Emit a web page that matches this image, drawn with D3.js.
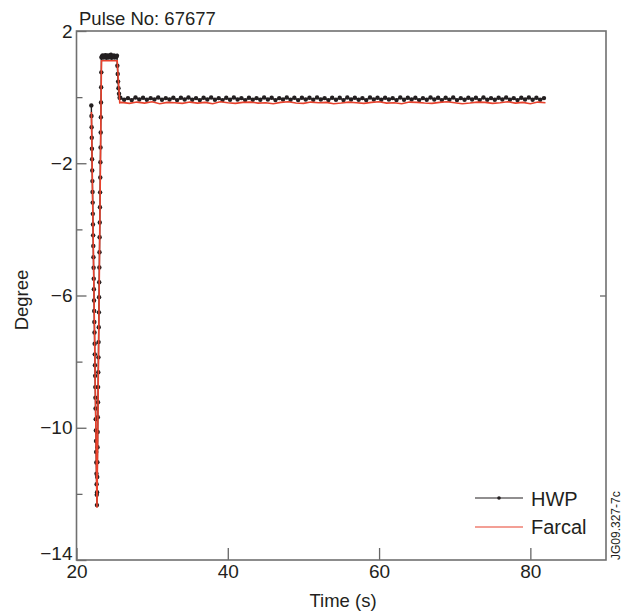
<!DOCTYPE html>
<html>
<head>
<meta charset="utf-8">
<script src="https://cdn.jsdelivr.net/npm/d3@7"></script>
<style>
  body { margin: 0; background: #fff; }
  text { font-family: "Liberation Sans", Arial, sans-serif; fill: #231f20; }
</style>
</head>
<body>
<div id="chart"></div>
<script>
// HWP: ramp + plateau + drop (explicit samples)
const hwpRampTime = [
  21.96,21.98,22.00,22.02,22.04,22.06,22.08,22.10,22.12,22.14,
  22.16,22.18,22.20,22.22,22.24,22.26,22.28,22.30,22.32,22.34,
  22.36,22.38,22.40,22.42,22.44,22.46,22.48,22.50,22.52,22.54,
  22.56,22.58,22.60,22.62,22.64,22.66,22.68,22.70,
  22.72,22.74,22.76,22.78,22.80,22.82,22.84,22.86,22.88,22.90,
  22.92,22.94,22.96,22.98,23.00,23.02,23.04,23.06,23.08,23.10,
  23.12,23.14,23.16,23.18,23.20,23.22,23.24,23.26,23.28,23.30,
  23.35,23.45,23.55,23.65,23.75,23.85,23.95,24.05,24.15,24.25,
  24.35,24.45,24.55,24.65,24.75,24.85,24.95,25.05,25.15,25.25,25.35,
  25.40,25.45,25.50,25.55,25.62,25.70
];
const hwpRampDeg = [
  -0.25,-0.57,-0.91,-1.23,-1.56,-1.88,-2.22,-2.54,-2.87,-3.19,
  -3.53,-3.85,-4.18,-4.50,-4.84,-5.16,-5.49,-5.81,-6.15,-6.47,
  -6.80,-7.12,-7.46,-7.78,-8.11,-8.43,-8.77,-9.09,-9.42,-9.74,
  -10.08,-10.40,-10.73,-11.05,-11.39,-11.71,-12.03,-12.34,
  -11.95,-11.49,-11.04,-10.59,-10.13,-9.68,-9.23,-8.77,-8.32,-7.87,
  -7.41,-6.96,-6.51,-6.05,-5.60,-5.15,-4.69,-4.24,-3.79,-3.33,
  -2.88,-2.43,-1.97,-1.52,-1.07,-0.61,-0.16,0.30,0.75,1.20,
  1.23,1.26,1.20,1.25,1.21,1.27,1.19,1.24,1.26,1.20,
  1.25,1.22,1.28,1.19,1.24,1.22,1.26,1.20,1.24,1.21,1.25,
  0.95,0.70,0.47,0.27,0.10,-0.02
];
// HWP flat part, sampled every 0.5 s from 25.8 s
const hwpFlatStart = 25.8, hwpFlatStep = 0.5;
const hwpFlatDeg = [
  -0.02,-0.08,-0.03,-0.09,-0.01,-0.07,-0.02,-0.08,-0.03,-0.07,
  -0.01,-0.08,-0.03,-0.07,-0.02,-0.09,-0.02,-0.07,-0.01,-0.08,
  -0.03,-0.09,-0.02,-0.07,-0.01,-0.08,-0.03,-0.09,-0.02,-0.08,
  -0.01,-0.07,-0.03,-0.09,-0.02,-0.08,-0.03,-0.08,-0.01,-0.07,
  -0.02,-0.09,-0.03,-0.07,-0.01,-0.08,-0.02,-0.09,-0.02,-0.07,
  -0.02,-0.08,-0.01,-0.07,-0.03,-0.09,-0.02,-0.08,-0.02,-0.09,
  -0.01,-0.07,-0.02,-0.08,-0.03,-0.09,-0.01,-0.07,-0.02,-0.08,
  -0.02,-0.07,-0.03,-0.09,-0.01,-0.08,-0.02,-0.07,-0.02,-0.09,
  -0.03,-0.08,-0.01,-0.07,-0.02,-0.09,-0.02,-0.08,-0.01,-0.09,
  -0.03,-0.08,-0.02,-0.07,-0.02,-0.09,-0.01,-0.08,-0.03,-0.08,
  -0.02,-0.07,-0.01,-0.08,-0.03,-0.09,-0.02,-0.07,-0.01,-0.08,
  -0.02,-0.08,-0.03
];

// Farcal
const farcalRampTime = [21.97, 22.71, 23.30, 23.36, 25.38, 25.72];
const farcalRampDeg = [-0.45, -12.42, 1.10, 1.10, 1.10, -0.17];
const farcalFlatStart = 26, farcalFlatStep = 1;
const farcalFlatDeg = [
  -0.16,-0.19,-0.15,-0.18,-0.14,-0.20,-0.16,-0.17,-0.19,-0.15,
  -0.18,-0.16,-0.20,-0.14,-0.17,-0.19,-0.16,-0.15,-0.18,-0.17,
  -0.20,-0.16,-0.14,-0.18,-0.19,-0.15,-0.17,-0.16,-0.20,-0.18,
  -0.15,-0.17,-0.19,-0.16,-0.14,-0.18,-0.17,-0.20,-0.15,-0.16,
  -0.18,-0.19,-0.16,-0.14,-0.17,-0.20,-0.18,-0.15,-0.16,-0.19,
  -0.17,-0.14,-0.18,-0.16,-0.20,-0.15,-0.17
];

const xMajor = [20, 40, 60, 80];
const yMajor = [2, -2, -6, -10, -14];
const yMinor = [0, -4, -8, -12];

var width = 627, height = 614;
var x = d3.scaleLinear().domain([20, 90]).range([76.5, 606]);
var y = d3.scaleLinear().domain([-14, 2]).range([560, 31]);

const hwp = hwpRampTime.map((t, i) => [t, hwpRampDeg[i]])
  .concat(hwpFlatDeg.map((v, i) => [hwpFlatStart + i * hwpFlatStep, v]));
const farcal = farcalRampTime.map((t, i) => [t, farcalRampDeg[i]])
  .concat(farcalFlatDeg.map((v, i) => [farcalFlatStart + i * farcalFlatStep, v]));

const svg = d3.select("#chart").append("svg")
  .attr("width", width).attr("height", height);

// axes (ticks point inward)
function styleAxis(g) {
  g.select(".domain").remove();
  g.selectAll("line").attr("stroke", "#666").attr("stroke-width", 1.3);
  g.selectAll("text").style("font-size", "19px")
    .style("font-family", "'Liberation Sans', Arial, sans-serif").attr("fill", "#231f20");
}

svg.append("g").attr("transform", "translate(0,560)")
  .call(d3.axisBottom(x).tickValues(xMajor).tickSize(-12).tickPadding(5))
  .call(styleAxis);

const yAxis = svg.append("g").attr("transform", "translate(76.5,0)")
  .call(d3.axisLeft(y).tickValues(yMajor).tickSize(-10).tickPadding(4))
  .call(styleAxis);
yAxis.selectAll(".tick").filter(d => d === -14).select("text").attr("dy", "-0.05em");

svg.append("g").attr("transform", "translate(76.5,0)")
  .call(d3.axisLeft(y).tickValues(yMinor).tickSize(-6).tickFormat(""))
  .call(styleAxis);

svg.append("g").attr("transform", "translate(606,0)")
  .call(d3.axisRight(y).tickValues([-6]).tickSize(-6).tickFormat(""))
  .call(styleAxis);

// frame
svg.append("rect")
  .attr("x", x(20)).attr("y", y(2))
  .attr("width", x(90) - x(20)).attr("height", y(-14) - y(2))
  .attr("fill", "none").attr("stroke", "#707070").attr("stroke-width", 1.6);

const line = d3.line().x(d => x(d[0])).y(d => y(d[1]));

// HWP
svg.append("path").datum(hwp)
  .attr("fill", "none").attr("stroke", "#231f20").attr("stroke-width", 1.4)
  .attr("d", line);
svg.append("g").selectAll("circle").data(hwp).enter().append("circle")
  .attr("cx", d => x(d[0])).attr("cy", d => y(d[1]))
  .attr("r", 2.2).attr("fill", "#231f20");

// Farcal
svg.append("path").datum(farcal)
  .attr("fill", "none").attr("stroke", "#e8412c").attr("stroke-width", 1.6)
  .attr("d", line);

// title & labels
svg.append("text").attr("x", 79).attr("y", 25)
  .style("font-size", "18.5px").text("Pulse No: 67677");
svg.append("text").attr("x", 343).attr("y", 607).attr("text-anchor", "middle")
  .style("font-size", "18.5px").text("Time (s)");
svg.append("text").attr("transform", "translate(28,300) rotate(-90)")
  .attr("text-anchor", "middle").style("font-size", "18.5px").text("Degree");
svg.append("text").attr("transform", "translate(620,560) rotate(-90)")
  .style("font-size", "12px").text("JG09.327-7c");

// legend
const legend = svg.append("g");
legend.append("line").attr("x1", 475).attr("x2", 523).attr("y1", 498).attr("y2", 498)
  .attr("stroke", "#231f20").attr("stroke-width", 1.2);
legend.append("circle").attr("cx", 499).attr("cy", 498).attr("r", 1.8).attr("fill", "#231f20");
legend.append("text").attr("x", 531).attr("y", 506).style("font-size", "20px").text("HWP");
legend.append("line").attr("x1", 475).attr("x2", 523).attr("y1", 527).attr("y2", 527)
  .attr("stroke", "#e8412c").attr("stroke-width", 1.2);
legend.append("text").attr("x", 531).attr("y", 534).style("font-size", "20px").text("Farcal");
</script>
</body>
</html>
